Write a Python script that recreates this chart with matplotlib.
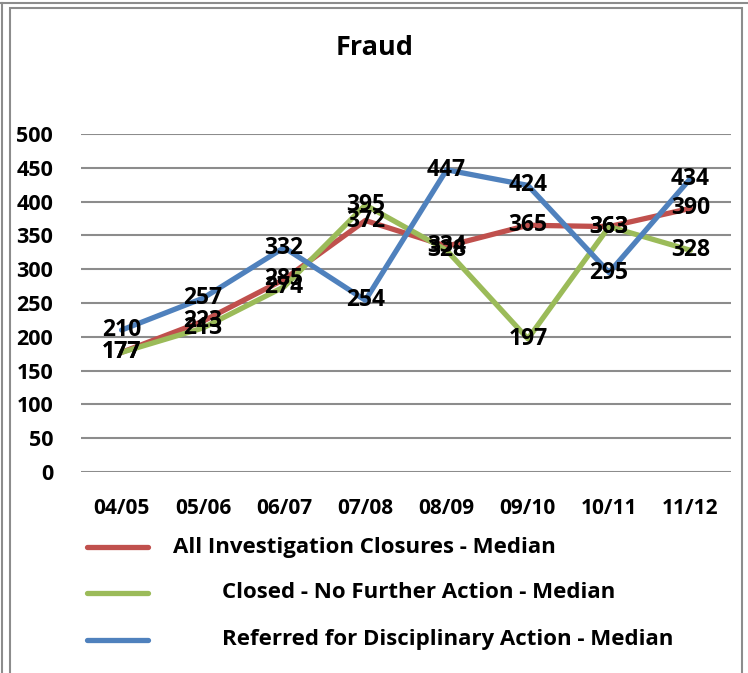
import matplotlib
matplotlib.use("Agg")
import matplotlib.pyplot as plt
from matplotlib.lines import Line2D
from matplotlib.patches import Rectangle

plt.rcParams['font.family'] = ['Open Sans', 'DejaVu Sans']
plt.rcParams['font.weight'] = 'bold'

title = "Fraud"
categories = ["04/05", "05/06", "06/07", "07/08", "08/09", "09/10", "10/11", "11/12"]
series_names = [
    "All Investigation Closures - Median",
    "Closed - No Further Action - Median",
    "Referred for Disciplinary Action - Median",
]
all_closures = [177, 223, 285, 372, 334, 365, 363, 390]
closed_nfa = [177, 213, 274, 395, 328, 197, 363, 328]
referred = [210, 257, 332, 254, 447, 424, 295, 434]
yticks = [0, 50, 100, 150, 200, 250, 300, 350, 400, 450, 500]

colors = ["#C0504D", "#9BBB59", "#4F81BD"]
series = [all_closures, closed_nfa, referred]

W, H = 748, 673
fig = plt.figure(figsize=(W / 100, H / 100), dpi=100)

# frames
fig.patches.append(Rectangle((10 / W, -0.05), 732 / W, 1.05 - 8 / H, transform=fig.transFigure,
                             fill=False, edgecolor="#8C8C8C", linewidth=1.5))
fig.add_artist(Line2D([0, 1], [1 - 3 / H, 1 - 3 / H], transform=fig.transFigure, color="#8C8C8C", lw=1.5))
fig.add_artist(Line2D([2 / W, 2 / W], [1 - 3 / H, 0], transform=fig.transFigure, color="#8C8C8C", lw=1.5))

ax = fig.add_axes([81 / W, 1 - 472 / H, 650 / W, 338 / H])
x = list(range(len(categories)))
ax.set_xlim(-0.5, len(categories) - 0.5)
ax.set_ylim(0, 500)
ax.set_yticks(yticks)
ax.set_xticks(x)
ax.set_xticklabels(categories)
for s in ax.spines.values():
    s.set_visible(False)
ax.tick_params(axis='both', length=0)
ax.tick_params(axis='y', pad=20, labelsize=15.5)
ax.tick_params(axis='x', pad=19, labelsize=15)
for lbl in ax.get_xticklabels() + ax.get_yticklabels():
    lbl.set_fontweight('bold')
ax.grid(axis='y', color="#8C8C8C", linewidth=1.5)
ax.set_axisbelow(True)

for vals, c in zip(series, colors):
    ax.plot(x, vals, color=c, linewidth=3.8, solid_capstyle='round', zorder=3)
for vals in series:
    for xi, v in zip(x, vals):
        ax.text(xi, v, str(v), ha='center', va='center', fontsize=16.5, fontweight='bold', zorder=5)

fig.text(375 / W, 1 - 48 / H, title, ha='center', va='center', fontsize=19.5, fontweight='bold')

# legend
rows = [547, 593, 640]
text_x = [173, 222, 222]
for name, c, ry, tx in zip(series_names, colors, rows, text_x):
    fig.add_artist(Line2D([87 / W, 148 / W], [1 - ry / H, 1 - ry / H], transform=fig.transFigure,
                          color=c, lw=3.8, solid_capstyle='round'))
    fig.text(tx / W, 1 - ry / H, name, ha='left', va='center', fontsize=16, fontweight='bold')

fig.savefig("out.png", dpi=100)
